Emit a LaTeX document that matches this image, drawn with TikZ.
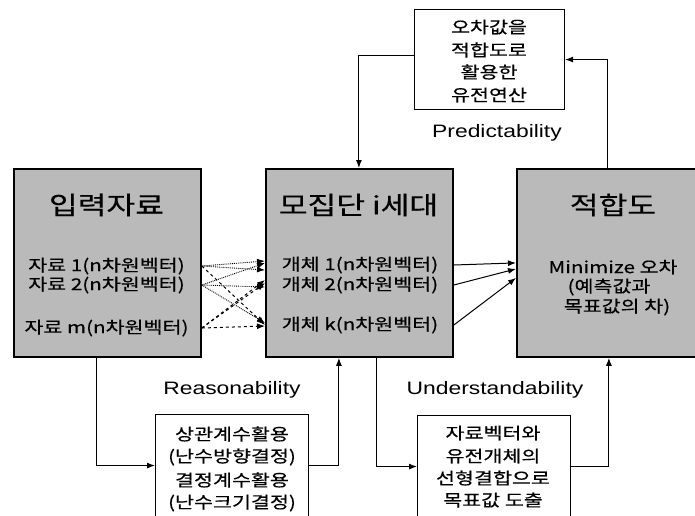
\documentclass[tikz,border=0pt]{standalone}
\usepackage{fontspec}
\setmainfont{Noto Sans CJK KR}[FakeStretch=1.25,FakeBold=0.4]
\newfontfamily\enfont{Liberation Sans}[FakeStretch=1.27]
\usetikzlibrary{arrows.meta}
\tikzset{
  bigbox/.style={draw, line width=1.8pt, fill=black!27, inner sep=0pt, anchor=north west},
  whitebox/.style={draw, line width=1.1pt, fill=white, inner sep=0pt, anchor=north west},
  boxtitle/.style={inner sep=0pt, font=\fontsize{25}{27}\selectfont},
  bodytext/.style={inner sep=0pt, font=\fontsize{16.5}{18}\selectfont},
  smalltext/.style={inner sep=0pt, font=\fontsize{16.5}{19}\selectfont},
  label/.style={inner sep=0pt, font=\enfont\fontsize{18}{20}\selectfont},
  arr/.style={line width=1pt, -{Latex[length=8pt,width=6pt]}},
  darr/.style={line width=1pt, dashed, -{Latex[length=8pt,width=6pt]}},
  oarr/.style={line width=0.9pt, densely dotted, -{Latex[length=8pt,width=6pt]}}
}
\begin{document}
\begin{tikzpicture}[x=1pt,y=-1pt]
\clip (0,0) rectangle (695,515);
\fill[white] (0,0) rectangle (695,515);
% boxes
\node[bigbox, minimum width=187pt, minimum height=188pt] (in) at (13,168) {};
\node[bigbox, minimum width=187pt, minimum height=188pt] (pop) at (265,168) {};
\node[bigbox, minimum width=196pt, minimum height=188pt] (fit) at (516,168) {};
\node[whitebox, minimum width=150pt, minimum height=100pt] (ga) at (414,9) {};
\node[whitebox, minimum width=153pt, minimum height=102pt] (rs) at (155,414) {};
\node[whitebox, minimum width=153pt, minimum height=102pt] (ud) at (417,415) {};
% left box text
\node[boxtitle] (inT) at (106.5,205) {입력자료};
\node[bodytext] (d1) at (106.5,266) {자료 1(n차원벡터)};
\node[bodytext] (d2) at (106.5,285) {자료 2(n차원벡터)};
\node[bodytext] (dm) at (106.5,328) {자료 m(n차원벡터)};
% middle box text
\node[boxtitle] (popT) at (358.5,205) {모집단 i세대};
\node[bodytext] (p1) at (360,265) {개체 1(n차원벡터)};
\node[bodytext] (p2) at (360,285) {개체 2(n차원벡터)};
\node[bodytext] (pk) at (360,325) {개체 k(n차원벡터)};
% right box text
\node[boxtitle] (fitT) at (613,205) {적합도};
\node[bodytext] (f1) at (613,267) {Minimize 오차};
\node[bodytext] (f2) at (609,287) {(예측값과};
\node[bodytext] (f3) at (617,307) {목표값의 차)};
% top box text
\node[smalltext] (g1) at (489,27) {오차값을};
\node[smalltext] (g2) at (489,50) {적합도로};
\node[smalltext] (g3) at (489,72) {활용한};
\node[smalltext] (g4) at (489,95) {유전연산};
% reason box text
\node[smalltext] (r1) at (232,434) {상관계수활용};
\node[smalltext] (r2) at (232,457) {(난수방향결정)};
\node[smalltext] (r3) at (232,480) {결정계수활용};
\node[smalltext] (r4) at (232,503) {(난수크기결정)};
% under box text
\node[smalltext] (u1) at (493,433) {자료벡터와};
\node[smalltext] (u2) at (493,456) {유전개체의};
\node[smalltext] (u3) at (493,478) {선형결합으로};
\node[smalltext] (u4) at (493,500) {목표값 도출};
% labels
\node[label] (lP) at (497,133) {Predictability};
\node[label] (lR) at (232,390) {Reasonability};
\node[label] (lU) at (495,390) {Understandability};
% loop connectors
\draw[arr] ([yshift=4pt]ga.west) -| ([xshift=-0.5pt]pop.north);
\draw[arr] ([xshift=-7pt]fit.north) |- (ga.east);
\draw[arr] ([xshift=-10.5pt]in.south) |- (rs.west);
\draw[arr] (rs.east) -| ([xshift=-20.5pt]pop.south);
\draw[arr] ([xshift=17.5pt]pop.south) |- (ud.west);
\draw[arr] (ud.east) -| ([xshift=-6pt]fit.south);
% population to fitness
\draw[arr] (pop.east |- p1) -- (fit.west);
\draw[arr] (pop.east |- p2) -- ([yshift=-6pt]fit.west);
\draw[arr] (pop.east |- pk) -- ([yshift=-15pt]fit.west);
% input to population
\draw[oarr] (in.east |- d1) -- ([yshift=4pt]pop.west |- p1);
\draw[oarr] (in.east |- d1) -- ([yshift=-5pt]pop.west |- p1);
\draw[darr] (in.east |- d1) -- (pop.west |- pk);
\draw[oarr] (in.east |- d2) -- ([yshift=2pt]pop.west |- p1);
\draw[oarr] (in.east |- d2) -- ([yshift=-2pt]pop.west |- p2);
\draw[oarr] (in.east |- d2) -- ([yshift=2pt]pop.west |- pk);
\draw[darr] (in.east |- dm) -- ([yshift=-15pt]pop.west |- p1);
\draw[darr] (in.east |- dm) -- ([yshift=2pt]pop.west |- p2);
\draw[darr] (in.east |- dm) -- ([yshift=-1pt]pop.west |- pk);
\end{tikzpicture}
\end{document}
